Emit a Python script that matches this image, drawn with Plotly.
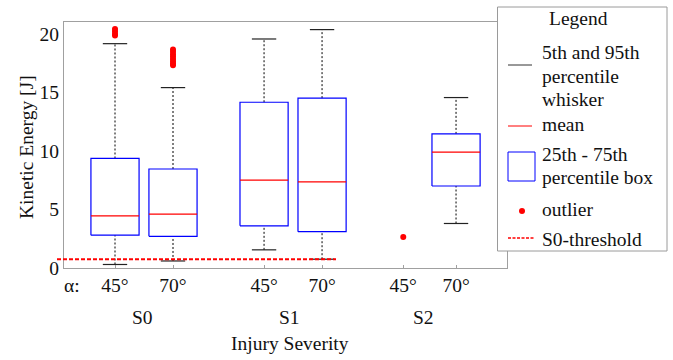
import plotly.graph_objects as go

# ---------------- data ----------------
group_labels = ["S0", "S1", "S2"]
angle_labels = ["45°", "70°", "45°", "70°", "45°", "70°"]
positions = [1.0, 2.0, 3.57, 4.57, 5.97, 6.88]
p05 = [0.3, 0.6, 1.55, 0.75, None, 3.8]
p25 = [2.8, 2.7, 3.6, 3.1, None, 7.0]
means = [4.45, 4.6, 7.5, 7.35, None, 9.9]
p75 = [9.35, 8.45, 14.15, 14.5, None, 11.45]
p95 = [19.15, 15.4, 19.55, 20.35, None, 14.55]
outliers = [
    [20.4, 20.2, 20.0, 19.85],
    [18.65, 18.45, 18.25, 18.05, 17.85, 17.65, 17.45, 17.3],
    [],
    [],
    [2.65],
    [],
]
threshold = 0.75
y_ticks = [0, 5, 10, 15, 20]

# ---------------- layout geometry ----------------
W_FIG, H_FIG = 673, 360
L, R, T, B = 64, 166, 22, 92
PW, PH = W_FIG - L - R, H_FIG - T - B
FONT = "Liberation Serif"
FS = 19.5
TXT = "#111111"


def xp(px):
    return (px - L) / PW


def yp(py):
    return (T + PH - py) / PH


BOX_HW = 0.415
CAP_HW = 0.21

box_x, box_y = [], []
wh_x, wh_y = [], []
cap_x, cap_y = [], []
mean_x, mean_y = [], []
out_x, out_y = [], []
for i, p in enumerate(positions):
    if p25[i] is not None:
        box_x += [p - BOX_HW, p + BOX_HW, p + BOX_HW, p - BOX_HW, p - BOX_HW, None]
        box_y += [p25[i], p25[i], p75[i], p75[i], p25[i], None]
        wh_x += [p, p, None, p, p, None]
        wh_y += [p75[i], p95[i], None, p05[i], p25[i], None]
        cap_x += [p - CAP_HW, p + CAP_HW, None, p - CAP_HW, p + CAP_HW, None]
        cap_y += [p95[i], p95[i], None, p05[i], p05[i], None]
        mean_x += [p - BOX_HW, p + BOX_HW, None]
        mean_y += [means[i], means[i], None]
    for v in outliers[i]:
        out_x.append(p)
        out_y.append(v)

fig = go.Figure()
fig.add_trace(go.Scatter(x=wh_x, y=wh_y, mode="lines",
                         line=dict(color="#000000", width=1, dash="2px,2px"),
                         hoverinfo="skip", showlegend=False))
fig.add_trace(go.Scatter(x=cap_x, y=cap_y, mode="lines",
                         line=dict(color="#222222", width=1.2),
                         hoverinfo="skip", showlegend=False))
fig.add_trace(go.Scatter(x=box_x, y=box_y, mode="lines",
                         line=dict(color="#0000ff", width=1.2),
                         hoverinfo="skip", showlegend=False))
fig.add_trace(go.Scatter(x=mean_x, y=mean_y, mode="lines",
                         line=dict(color="#ff0000", width=1.2),
                         hoverinfo="skip", showlegend=False))
fig.add_trace(go.Scatter(x=out_x, y=out_y, mode="markers",
                         marker=dict(color="#ff0000", size=6, line=dict(width=0)),
                         hoverinfo="skip", showlegend=False, cliponaxis=False))

shapes = []
# threshold line (data y, extends slightly left of axis like reference)
shapes.append(dict(type="line", xref="paper", yref="y", x0=xp(57), x1=xp(336),
                   y0=threshold, y1=threshold, layer="above",
                   line=dict(color="#ff0000", width=2, dash="4px,2px")))

# manual legend box
shapes.append(dict(type="rect", xref="paper", yref="paper",
                   x0=xp(497.5), x1=xp(667), y0=yp(7), y1=yp(251),
                   fillcolor="white", line=dict(color="#9a9a9a", width=1), layer="above"))
shapes.append(dict(type="line", xref="paper", yref="paper",
                   x0=xp(508), x1=xp(532), y0=yp(65), y1=yp(65),
                   line=dict(color="#333333", width=1), layer="above"))
shapes.append(dict(type="line", xref="paper", yref="paper",
                   x0=xp(508), x1=xp(532), y0=yp(126), y1=yp(126),
                   line=dict(color="#ff0000", width=1), layer="above"))
shapes.append(dict(type="rect", xref="paper", yref="paper",
                   x0=xp(508), x1=xp(535), y0=yp(152), y1=yp(181),
                   line=dict(color="#0000ff", width=1), layer="above"))
shapes.append(dict(type="circle", xref="paper", yref="paper",
                   x0=xp(519), x1=xp(525), y0=yp(208), y1=yp(214),
                   fillcolor="#ff0000", line=dict(width=0), layer="above"))
shapes.append(dict(type="line", xref="paper", yref="paper",
                   x0=xp(508), x1=xp(534), y0=yp(238), y1=yp(238),
                   line=dict(color="#ff0000", width=1.5, dash="3px,1.5px"), layer="above"))

annotations = []


def ann(text, x, y, xanchor="left", size=FS, angle=0):
    annotations.append(dict(text=text, x=xp(x), y=yp(y), xref="paper", yref="paper",
                            xanchor=xanchor, yanchor="middle", showarrow=False,
                            textangle=angle, font=dict(family=FONT, size=size, color=TXT)))


ann("Legend", 578, 19, xanchor="center")
legend_rows = [("5th and 95th", 52), ("percentile", 76), ("whisker", 100), ("mean", 124),
               ("25th - 75th", 154), ("percentile box", 177), ("outlier", 209),
               ("S0-threshold", 239)]
for t, y in legend_rows:
    ann(t, 540, y)

# axis decorations
ann("α:", 62, 285)
group_px = [142, 289, 423]
for g, gx in zip(group_labels, group_px):
    ann(g, gx, 317, xanchor="center")
ann("Injury Severity", 290, 343, xanchor="center")
ann("Kinetic Energy [J]", 26, 147, xanchor="center", angle=-90)

fig.update_layout(
    width=W_FIG, height=H_FIG,
    margin=dict(l=L, r=R, t=T, b=B, pad=0),
    paper_bgcolor="white", plot_bgcolor="white",
    font=dict(family=FONT, size=FS, color=TXT),
    showlegend=False,
    shapes=shapes, annotations=annotations,
    xaxis=dict(range=[positions[0] - 51 / 58, positions[0] + 392 / 58],
               tickvals=positions, ticktext=angle_labels,
               ticks="inside", ticklen=3, tickcolor="#a0a0a0",
               showgrid=False, zeroline=False, showline=True, mirror=True,
               linecolor="#a0a0a0", linewidth=1,
               tickfont=dict(family=FONT, size=FS, color=TXT)),
    yaxis=dict(range=[0, 21], tickvals=y_ticks,
               ticks="", showgrid=False, zeroline=False, showline=True, mirror=True,
               linecolor="#a0a0a0", linewidth=1,
               tickfont=dict(family=FONT, size=FS, color=TXT)),
)

fig.write_html("out.html")
